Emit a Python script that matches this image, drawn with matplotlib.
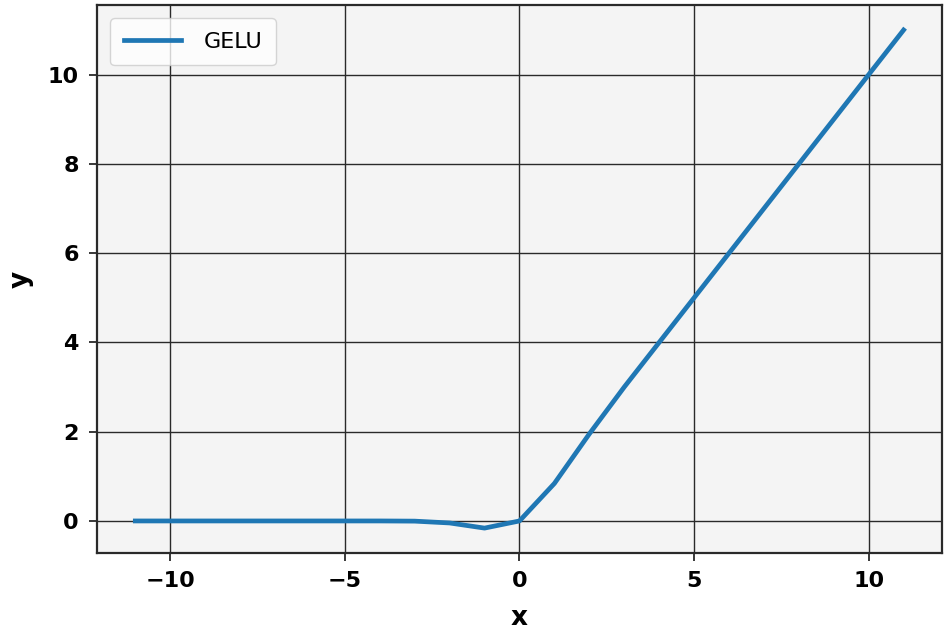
import numpy as np
import matplotlib
matplotlib.use('Agg')
import matplotlib.pyplot as plt

# values (integer x from -11 to 11)
x_vals = [-11, -10, -9, -8, -7, -6, -5, -4, -3, -2, -1, 0,
          1, 2, 3, 4, 5, 6, 7, 8, 9, 10, 11]
y_vals = [0.0, 0.0, 0.0, 0.0, 0.0, 0.0, 0.0, 0.0, -0.004, -0.045, -0.16, 0.0,
          0.84, 1.95, 3.0, 4.0, 5.0, 6.0, 7.0, 8.0, 9.0, 10.0, 11.0]
series_label = 'GELU'

fig = plt.figure(figsize=(9.5, 6.36), dpi=100)
ax = fig.add_axes([0.102, 0.1305, 0.8896, 0.8615])
ax.set_facecolor('#f4f4f4')

ax.plot(x_vals, y_vals, color='#1f77b4', lw=3.4, label=series_label)

ax.grid(True, color='#2a2a2a', lw=1.0)
ax.set_axisbelow(True)
for sp in ax.spines.values():
    sp.set_color('#2a2a2a')
    sp.set_linewidth(1.6)

ax.set_xticks([-10, -5, 0, 5, 10])
ax.set_yticks([0, 2, 4, 6, 8, 10])
ax.tick_params(labelsize=16, length=6, width=1.3, color='#2a2a2a', pad=7)
for lab in ax.get_xticklabels() + ax.get_yticklabels():
    lab.set_fontweight('bold')

ax.set_xlabel('x', fontsize=19, fontweight='bold', labelpad=10)
ax.set_ylabel('y', fontsize=19, fontweight='bold', labelpad=10)

leg = ax.legend(loc='upper left', fontsize=16, handlelength=2.6,
                handletextpad=1.0, borderpad=0.6, borderaxespad=0.6,
                fancybox=True, framealpha=0.8)

fig.savefig('out.png', dpi=100)
